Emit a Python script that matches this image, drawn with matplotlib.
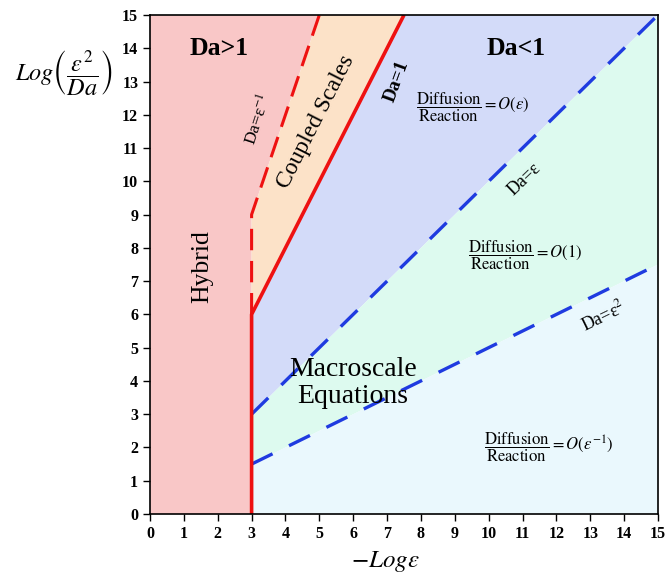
import matplotlib
matplotlib.use("Agg")
import matplotlib.pyplot as plt

plt.rcParams['font.family'] = ['Liberation Serif', 'DejaVu Serif']
plt.rcParams['mathtext.fontset'] = 'stix'

# Boundary lines (x = -Log eps, y = Log(eps^2/Da))
da1_x = [3, 3, 7.5]          # Da = 1 (solid red)
da1_y = [0, 6, 15]
dainv_x = [3, 3, 5]          # Da = eps^-1 (dashed red)
dainv_y = [6, 9, 15]
daeps_x = [3, 15]            # Da = eps (dashed blue)
daeps_y = [3, 15]
daeps2_x = [3, 15]           # Da = eps^2 (dashed blue)
daeps2_y = [1.5, 7.5]

# Regions
pink_x = [0, 3, 3, 5, 0]
pink_y = [0, 0, 9, 15, 15]
orange_x = [3, 3, 5, 7.5]
orange_y = [6, 9, 15, 15]
blue_x = [3, 3, 7.5, 15]
blue_y = [3, 6, 15, 15]
green_x = [3, 3, 15, 15]
green_y = [1.5, 3, 15, 7.5]
cyan_x = [3, 3, 15, 15]
cyan_y = [0, 1.5, 7.5, 0]

ticks = list(range(0, 16))

fig = plt.figure(figsize=(6.68, 5.75), dpi=100)
ax = fig.add_axes([150/668, 61/575, 508/668, 499/575])

ax.fill(pink_x, pink_y, color='#F9C7C7', lw=0)
ax.fill(orange_x, orange_y, color='#FCE2C8', lw=0)
ax.fill(blue_x, blue_y, color='#D3DBF9', lw=0)
ax.fill(green_x, green_y, color='#DDFAEF', lw=0)
ax.fill(cyan_x, cyan_y, color='#EAF8FD', lw=0)

ax.plot(dainv_x, dainv_y, color='#EE1111', lw=2.2, dashes=(7, 3.5))
ax.plot(daeps_x, daeps_y, color='#1F3BE0', lw=2.4, dashes=(7, 5.5))
ax.plot(daeps2_x, daeps2_y, color='#1F3BE0', lw=2.4, dashes=(7, 5.5))
ax.plot(da1_x, da1_y, color='#EE1111', lw=2.6, solid_capstyle='butt')

ax.set_xlim(0, 15)
ax.set_ylim(0, 15)
ax.set_xticks(ticks)
ax.set_yticks(ticks)
ax.tick_params(direction='out', length=5, width=1, labelsize=11.5)
for lab in ax.get_xticklabels() + ax.get_yticklabels():
    lab.set_fontweight('bold')
for s in ax.spines.values():
    s.set_linewidth(1.2)

ax.text(2.05, 14.0, 'Da>1', fontsize=18.5, fontweight='bold', ha='center', va='center')
ax.text(10.8, 14.0, 'Da<1', fontsize=18.5, fontweight='bold', ha='center', va='center')
ax.text(1.53, 7.45, 'Hybrid', fontsize=18.5, rotation=90, ha='center', va='center')
ax.text(4.9, 11.8, 'Coupled Scales', fontsize=17, rotation=63, ha='center', va='center')
ax.text(3.2, 11.85, r'Da=ε$^{-1}$', fontsize=12.5, rotation=72, ha='center', va='center')
ax.text(7.29, 13.0, 'Da=1', fontsize=13.5, fontweight='bold', rotation=70, ha='center', va='center')
ax.text(11.05, 10.05, 'Da=ε', fontsize=13, rotation=44, ha='center', va='center')
ax.text(13.4, 5.95, r'Da=ε$^{2}$', fontsize=13, rotation=26, ha='center', va='center')
ax.text(6.0, 3.95, 'Macroscale\nEquations', fontsize=20, ha='center', va='center',
        linespacing=1.1)

ax.text(7.85, 12.23, r'$\dfrac{\mathrm{Diffusion}}{\mathrm{Reaction}}=O(\varepsilon)$',
        fontsize=12, ha='left', va='center')
ax.text(9.4, 7.78, r'$\dfrac{\mathrm{Diffusion}}{\mathrm{Reaction}}=O(1)$',
        fontsize=12, ha='left', va='center')
ax.text(9.85, 2.01, r'$\dfrac{\mathrm{Diffusion}}{\mathrm{Reaction}}=O(\varepsilon^{-1})$',
        fontsize=12, ha='left', va='center')

fig.text(64/668, 1 - 73/575, r'$Log\left(\dfrac{\varepsilon^{2}}{Da}\right)$',
         fontsize=17.5, ha='center', va='center')
fig.text(385/668, 1 - 562/575, r'$-Log\varepsilon$', fontsize=18, ha='center', va='center')

fig.savefig('out.png', dpi=100)
